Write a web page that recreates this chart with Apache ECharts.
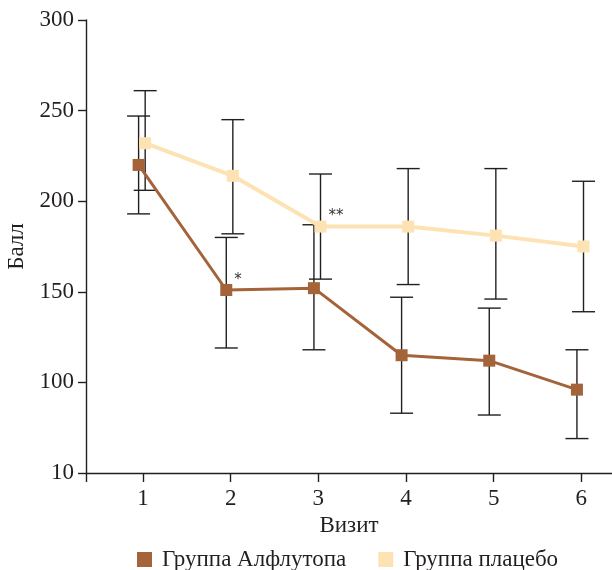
<!DOCTYPE html>
<html>
<head>
<meta charset="utf-8">
<script src="https://cdn.jsdelivr.net/npm/echarts@6/dist/echarts.min.js"></script>
<style>
  html, body { margin: 0; padding: 0; background: #fff; }
  #chart { width: 612px; height: 570px; }
</style>
</head>
<body>
<div id="chart"></div>
<script>
const visits = [1, 2, 3, 4, 5, 6]

// Группа Алфлутопа
const alflutopMean = [220, 151, 152, 115, 112, 96]
const alflutopLow = [193, 119, 118, 83, 82, 69]
const alflutopHigh = [247, 180, 187, 147, 141, 118]
const alflutopMarks = ['', '*', '', '', '', '']

// Группа плацебо
const placeboMean = [232, 214, 186, 186, 181, 175]
const placeboLow = [206, 182, 157, 154, 146, 139]
const placeboHigh = [261, 245, 215, 218, 218, 211]
const placeboMarks = ['', '', '**', '', '', '']

const yTicks = [50, 100, 150, 200, 250, 300]
const yTickLabels = ['10', '100', '150', '200', '250', '300']

const ink = '#231f20'
const brown = '#a5633a'
const cream = '#fde3b3'
const font = 'Liberation Serif'
const fontSize = 23

function errorBars(name, low, high, shift) {
  return {
    type: 'custom',
    name: name,
    z: 1,
    silent: true,
    data: visits.map((v, i) => [v + shift, low[i], high[i]]),
    encode: { x: 0, y: [1, 2] },
    renderItem(params, api) {
      const x = api.value(0)
      const lo = api.coord([x, api.value(1)])
      const hi = api.coord([x, api.value(2)])
      const w = 11.5
      const style = { stroke: ink, lineWidth: 1.4 }
      return {
        type: 'group',
        children: [
          { type: 'line', shape: { x1: lo[0], y1: lo[1], x2: hi[0], y2: hi[1] }, style },
          { type: 'line', shape: { x1: lo[0] - w, y1: lo[1], x2: lo[0] + w, y2: lo[1] }, style },
          { type: 'line', shape: { x1: hi[0] - w, y1: hi[1], x2: hi[0] + w, y2: hi[1] }, style }
        ]
      }
    }
  }
}

function meanLine(name, mean, marks, shift, color, width, z) {
  return {
    type: 'line',
    name: name,
    z: z,
    symbol: 'rect',
    symbolSize: 12,
    lineStyle: { color: color, width: width },
    itemStyle: { color: color },
    data: visits.map((v, i) => {
      const item = { value: [v + shift, mean[i]] }
      if (marks[i]) {
        item.label = {
          show: true,
          formatter: marks[i],
          position: 'right',
          offset: [-3, -10],
          color: '#333',
          fontFamily: 'DejaVu Sans',
          fontSize: 15
        }
      }
      return item
    })
  }
}

const chart = echarts.init(document.getElementById('chart'))
chart.setOption({
  animation: false,
  textStyle: { fontFamily: font, color: ink },
  grid: { left: 86, right: 0, top: 20, bottom: 97, outerBoundsMode: 'none' },
  xAxis: {
    type: 'value',
    min: 0.35,
    max: 6.35,
    name: 'Визит',
    nameLocation: 'middle',
    nameGap: 40,
    nameTextStyle: { fontFamily: font, fontSize: fontSize, color: ink },
    splitLine: { show: false },
    axisLine: { lineStyle: { color: ink, width: 1.4 } },
    axisTick: { show: true, length: 9, customValues: [0.35].concat(visits), lineStyle: { color: ink, width: 1.4 } },
    axisLabel: { customValues: visits, margin: 14, fontFamily: font, fontSize: fontSize, color: ink }
  },
  yAxis: {
    type: 'value',
    min: 50,
    max: 300,
    interval: 50,
    name: 'Балл',
    nameLocation: 'middle',
    nameGap: 55,
    nameTextStyle: { fontFamily: font, fontSize: fontSize, color: ink },
    splitLine: { show: false },
    axisLine: { show: true, lineStyle: { color: ink, width: 1.4 } },
    axisTick: { show: true, length: 8, lineStyle: { color: ink, width: 1.4 } },
    axisLabel: {
      margin: 12,
      fontFamily: font,
      fontSize: fontSize,
      color: ink,
      formatter: v => yTickLabels[yTicks.indexOf(v)]
    }
  },
  legend: {
    data: ['Группа Алфлутопа', 'Группа плацебо'],
    icon: 'rect',
    itemWidth: 15,
    itemHeight: 15,
    itemGap: 32,
    left: 132,
    top: 543,
    textStyle: { fontFamily: font, fontSize: fontSize, color: ink, padding: [0, 0, 0, 5] }
  },
  series: [
    errorBars('err-alflutop', alflutopLow, alflutopHigh, -0.05),
    errorBars('err-placebo', placeboLow, placeboHigh, 0.025),
    meanLine('Группа плацебо', placeboMean, placeboMarks, 0.025, cream, 4, 2),
    meanLine('Группа Алфлутопа', alflutopMean, alflutopMarks, -0.05, brown, 3, 3)
  ]
})
</script>
</body>
</html>
